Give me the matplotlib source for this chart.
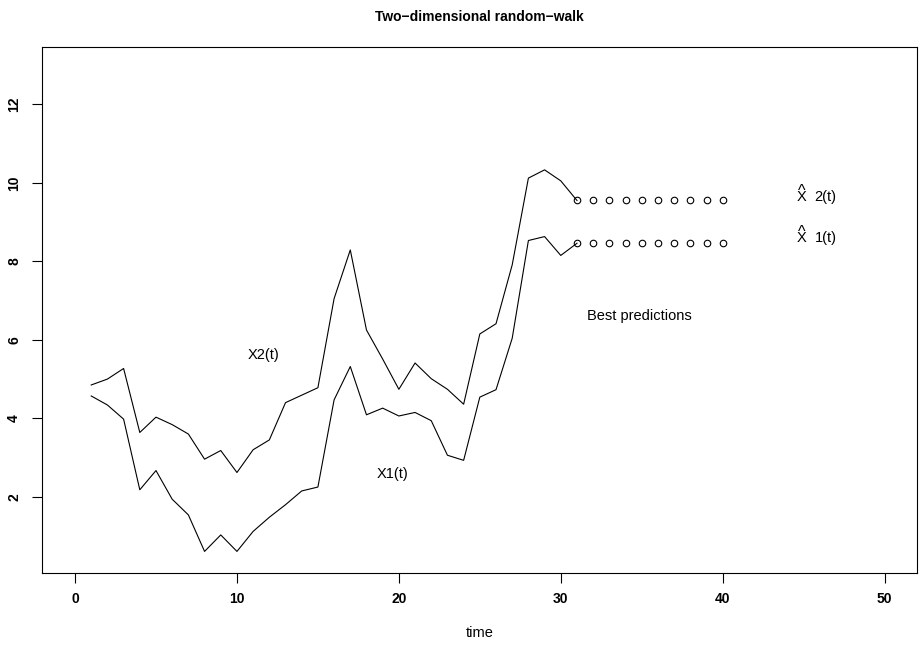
import numpy as np
import matplotlib
matplotlib.use("Agg")
import matplotlib.pyplot as plt

plt.rcParams['font.family'] = ['Liberation Sans', 'DejaVu Sans']

# observed random walk, t = 1..31
t_obs = np.arange(1, 32)
x2 = [4.85, 5.00, 5.27, 3.64, 4.03, 3.84, 3.60, 2.96, 3.18, 2.62,
      3.20, 3.45, 4.40, 4.59, 4.78, 7.05, 8.29, 6.25, 5.51, 4.74,
      5.41, 5.01, 4.74, 4.36, 6.15, 6.41, 7.91, 10.12, 10.33, 10.05, 9.55]
x1 = [4.57, 4.34, 3.98, 2.18, 2.67, 1.94, 1.54, 0.61, 1.03, 0.61,
      1.12, 1.48, 1.80, 2.15, 2.25, 4.47, 5.32, 4.09, 4.26, 4.06,
      4.15, 3.94, 3.06, 2.93, 4.54, 4.73, 6.04, 8.53, 8.63, 8.15, 8.46]

# best predictions, t = 31..40
t_pred = np.arange(31, 41)
x2_pred = [9.55] * 10
x1_pred = [8.46] * 10

fig = plt.figure(figsize=(9.23, 6.49), dpi=100)
ax = fig.add_axes([0.0455, 0.1171, 0.948, 0.8105])

ax.plot(t_obs, x2, color='black', lw=0.8)
ax.plot(t_obs, x1, color='black', lw=0.8)
ax.plot(t_pred, x2_pred, 'o', mfc='none', mec='black', ms=4.7, mew=0.8)
ax.plot(t_pred, x1_pred, 'o', mfc='none', mec='black', ms=4.7, mew=0.8)

fs = 10.5
ax.text(11.67, 5.62, "X2(t)", ha='center', va='center', fontsize=fs)
ax.text(19.63, 2.59, "X1(t)", ha='center', va='center', fontsize=fs)
ax.text(34.88, 6.61, "Best predictions", ha='center', va='center', fontsize=fs)

# hatted labels: X, a hat above it, then the index
for yv, idx in [(9.64, "2(t)"), (8.60, "1(t)")]:
    ax.text(44.86, yv, "X", ha='center', va='center', fontsize=fs)
    ax.annotate("^", (44.86, yv), xytext=(0, 4), textcoords='offset points',
                ha='center', va='center', fontsize=11.5)
    ax.text(45.68, yv, idx, ha='left', va='center', fontsize=fs)

ax.set_xlim(-2.04, 52.0)
ax.set_ylim(0.06, 13.46)
ax.set_xticks([0, 10, 20, 30, 40, 50])
ax.set_yticks([2, 4, 6, 8, 10, 12])
ax.tick_params(direction='out', length=7, width=0.8, labelsize=10, pad=7)
ax.tick_params(axis='y', pad=8)
for lab in ax.get_xticklabels() + ax.get_yticklabels():
    lab.set_fontweight('bold')
for lab in ax.get_yticklabels():
    lab.set_rotation(90)
    lab.set_va('center')
for s in ax.spines.values():
    s.set_linewidth(0.8)

ax.set_xlabel("time", fontsize=fs, labelpad=14)
ax.set_title("Two\u2212dimensional random\u2212walk", fontsize=10, fontweight='bold', pad=19)

fig.savefig("out.png", dpi=100)
